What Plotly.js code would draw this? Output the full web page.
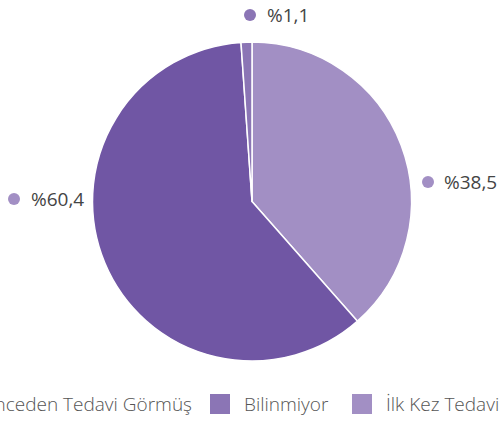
<!DOCTYPE html>
<html><head><meta charset="utf-8">
<script src="https://cdn.plot.ly/plotly-3.0.1.min.js"></script>
<style>html,body{margin:0;padding:0;background:#fff}#c{width:499px;height:421px}</style>
</head><body><div id="c"></div>
<script>
// Data
const categories = ["İlk Kez Tedavi", "Önceden Tedavi Görmüş", "Bilinmiyor"];
const values = [38.5, 60.4, 1.1];
const colors = ["#a28fc4", "#7056a4", "#8b75b5"];
const legendOrder = ["Önceden Tedavi Görmüş", "Bilinmiyor", "İlk Kez Tedavi"];
const labelText = values.map(v => "%" + v.toFixed(1).replace(".", ","));

const W = 499, H = 421;
const px = x => x / W, py = y => 1 - y / H;

const trace = {
  type: "pie",
  labels: categories,
  values: values,
  sort: false,
  direction: "clockwise",
  rotation: 0,
  marker: {colors: colors, line: {color: "#ffffff", width: 1.5}},
  textinfo: "none",
  hoverinfo: "label+percent",
  showlegend: false,
  domain: {x: [px(92), px(412)], y: [py(361), py(42)]}
};

const FONT = "'Open Sans', 'DejaVu Sans', sans-serif";
// Outside labels: dot centre and text start (px)
const labelPos = [
  {dx: 428, dy: 182, tx: 442, dot: colors[0]},   // İlk Kez
  {dx: 14, dy: 199, tx: 29, dot: colors[0]},     // Önceden
  {dx: 250, dy: 15, tx: 265, dot: colors[2]}     // Bilinmiyor
];
const annotations = [];
const shapes = [];
labelPos.forEach((p, i) => {
  shapes.push({type: "circle", xref: "paper", yref: "paper",
    x0: px(p.dx - 6), x1: px(p.dx + 6), y0: py(p.dy + 6), y1: py(p.dy - 6),
    fillcolor: p.dot, line: {width: 0}});
  annotations.push({
    xref: "paper", yref: "paper", x: px(p.tx), y: py(p.dy),
    xanchor: "left", yanchor: "middle", showarrow: false,
    text: labelText[i],
    font: {family: FONT, size: 19, color: "#444444"}
  });
});

// Legend (manual, clipped at the edges like the reference)
const legendItems = [
  {name: legendOrder[0], sq: null, tx: 194, anchor: "right"},
  {name: legendOrder[1], sq: 210, tx: 242, anchor: "left"},
  {name: legendOrder[2], sq: 352, tx: 384, anchor: "left"}
];
const legendColor = {};
categories.forEach((c, i) => legendColor[c] = colors[i]);
legendItems.forEach(it => {
  if (it.sq !== null) {
    shapes.push({type: "rect", xref: "paper", yref: "paper",
      x0: px(it.sq), x1: px(it.sq + 20), y0: py(414), y1: py(394),
      fillcolor: legendColor[it.name], line: {width: 0}});
  }
  annotations.push({
    xref: "paper", yref: "paper", x: px(it.tx), y: py(404),
    xanchor: it.anchor, yanchor: "middle", showarrow: false,
    text: it.name,
    font: {family: FONT, size: 19, color: "#555555", weight: 300}
  });
});

const layout = {
  width: W, height: H,
  margin: {l: 0, r: 0, t: 0, b: 0},
  paper_bgcolor: "#ffffff",
  showlegend: false,
  annotations: annotations,
  shapes: shapes
};
Plotly.newPlot("c", [trace], layout, {displayModeBar: false, staticPlot: true});
</script></body></html>
